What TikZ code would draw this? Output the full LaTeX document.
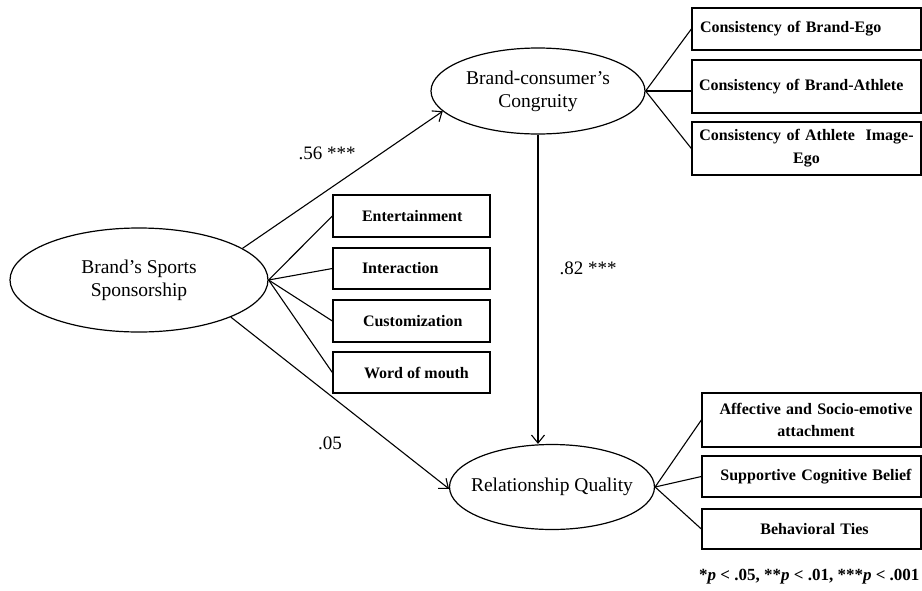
\documentclass[tikz,border=0pt]{standalone}
\usepackage{fontspec}
\setmainfont{Liberation Serif}
\usetikzlibrary{shapes.geometric,arrows.meta,calc}
\newcommand{\elltext}[1]{\makebox[0pt]{\begin{tabular}{@{}c@{}}#1\end{tabular}}}
\begin{document}
\begin{tikzpicture}[x=1pt,y=-1pt,
  line width=1.1pt,
  ell/.style={ellipse, draw, line width=1.2pt, inner sep=0pt, font=\fontsize{19.5}{23}\selectfont},
  lbox/.style={rectangle, draw, line width=1.3pt, inner sep=0pt, minimum width=157pt, minimum height=42pt, font=\bfseries\fontsize{16}{19}\selectfont},
  rbox/.style={rectangle, draw, line width=1.3pt, inner sep=0pt, minimum width=229pt, text width=229pt, align=center, font=\bfseries\fontsize{16}{23}\selectfont},
  bbox/.style={rectangle, draw, line width=1.3pt, inner sep=0pt, minimum width=219pt, text width=219pt, align=center, font=\bfseries\fontsize{16}{22}\selectfont},
  arr/.style={-{Straight Barb[length=8pt,width=13pt]}},
  coef/.style={font=\fontsize{19}{22}\selectfont}
]
\useasboundingbox[fill=white] (0,0) rectangle (922,590);

% latent constructs
\node[ell, minimum width=258pt, minimum height=104pt] (sp) at (139,280) {\elltext{Brand's Sports\\Sponsorship}};
\node[ell, minimum width=214pt, minimum height=86pt] (cg) at (538,91) {\elltext{Brand-consumer's\\Congruity}};
\node[ell, minimum width=205pt, minimum height=85pt] (rq) at (552,487) {\elltext{Relationship Quality}};

% sponsorship indicators
\node[lbox] (ent) at (411.5,216) {\makebox[157pt][l]{\hspace{29pt}Entertainment}};
\node[lbox, minimum height=41pt] (int) at (411.5,268.5) {\makebox[157pt][l]{\hspace{29pt}Interaction}};
\node[lbox] (cus) at (411.5,321) {\makebox[157pt][l]{\hspace{30pt}Customization}};
\node[lbox, minimum height=41pt] (wom) at (411.5,372.5) {\makebox[157pt][l]{\hspace{31pt}Word of mouth}};

% congruity indicators
\node[rbox, minimum height=42pt] (b1) at (806.5,29) {\makebox[229pt][l]{\hspace{8pt}Consistency of Brand-Ego}};
\node[rbox, minimum height=53pt] (b2) at (806.5,86.5) {\makebox[229pt][l]{\hspace{7pt}Consistency of Brand-Athlete}};
\node[rbox, minimum height=53pt] (b3) at (806.5,148.5) {Consistency of Athlete\ \ Image-\\Ego};

% relationship quality indicators
\node[bbox, minimum height=54pt] (a1) at (811.5,420) {\hspace{9pt}Affective and Socio-emotive\\\hspace{9pt}attachment};
\node[bbox, minimum height=41pt] (a2) at (811.5,476.5) {\hspace{9pt}Supportive Cognitive Belief};
\node[bbox, minimum height=40pt] (a3) at (811.5,529) {\hspace{6pt}Behavioral Ties};

% indicator connectors
\draw (sp.east) -- (ent.west);
\draw (sp.east) -- (int.west);
\draw (sp.east) -- (cus.west);
\draw (sp.east) -- (wom.west);
\draw (cg.east) -- (b1.west);
\draw (cg.east) -- (cg.east -| b2.west);
\draw (cg.east) -- (b3.west);
\draw (rq.east) -- (a1.west);
\draw (rq.east) -- (a2.west);
\draw (rq.east) -- (a3.west);

% structural paths
\draw[arr] (sp.17.6) -- (cg.192.7);
\draw[arr] (sp.338.3) -- (rq.181);
\draw[arr] (cg.south) -- (cg.south |- rq.north);

% coefficients
\node[coef] (l56) at (327,153) {.56 ***};
\node[coef] (l82) at (588,268) {.82 ***};
\node[coef] (l05) at (330,443) {.05};

% note
\node[anchor=east, inner sep=0pt, font=\bfseries\fontsize{17}{20}\selectfont] (note) at (920,577) {*\textit{p} < .05, **\textit{p} < .01, ***\textit{p} < .001};
\end{tikzpicture}
\end{document}
